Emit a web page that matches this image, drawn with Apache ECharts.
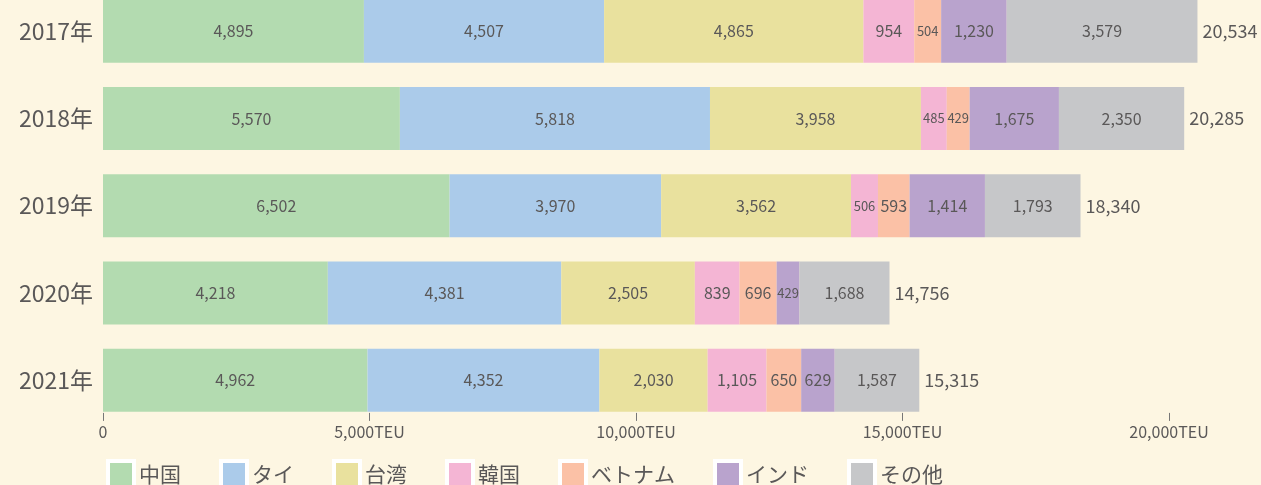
<!DOCTYPE html>
<html>
<head>
<meta charset="utf-8">
<script src="https://cdn.jsdelivr.net/npm/echarts@6/dist/echarts.min.js"></script>
<style>
html,body{margin:0;padding:0;background:#fdf6e2;}
#chart{width:1261px;height:485px;}
</style>
</head>
<body>
<div id="chart"></div>
<script>
const years = ['2017年', '2018年', '2019年', '2020年', '2021年'];
const seriesNames = ['中国', 'タイ', '台湾', '韓国', 'ベトナム', 'インド', 'その他'];
const china   = [4895, 5570, 6502, 4218, 4962];
const thai    = [4507, 5818, 3970, 4381, 4352];
const taiwan  = [4865, 3958, 3562, 2505, 2030];
const korea   = [954, 485, 506, 839, 1105];
const vietnam = [504, 429, 593, 696, 650];
const india   = [1230, 1675, 1414, 429, 629];
const others  = [3579, 2350, 1793, 1688, 1587];
const totals  = [20534, 20285, 18340, 14756, 15315];
const xTicks  = [0, 5000, 10000, 15000, 20000];

const colors = ['#b3dbb0', '#abcbea', '#e9e19e', '#f4b5d4', '#fbc1a6', '#b9a3cd', '#c6c7c9'];
const values = [china, thai, taiwan, korea, vietnam, india, others];
const textColor = '#5a5858';
const font = '"Noto Sans CJK JP", "Noto Sans", sans-serif';

const fmt = v => v.toLocaleString('en-US');

const series = seriesNames.map((name, i) => ({
  name: name,
  type: 'bar',
  stack: 'total',
  barWidth: 63,
  itemStyle: { color: colors[i] },
  emphasis: { disabled: true },
  data: values[i].map(v => ({
    value: v,
    label: { fontSize: v < 550 ? 13 : 16 }
  })),
  label: {
    show: true,
    position: 'inside',
    color: textColor,
    fontFamily: font,
    formatter: p => fmt(p.value)
  }
}));

series.push({
  name: '合計',
  type: 'bar',
  stack: 'total',
  barWidth: 63,
  itemStyle: { color: 'transparent' },
  emphasis: { disabled: true },
  data: totals.map(() => 0),
  label: {
    show: true,
    position: 'right',
    distance: 5,
    color: textColor,
    fontFamily: font,
    fontSize: 18,
    formatter: p => fmt(totals[p.dataIndex])
  }
});

const chart = echarts.init(document.getElementById('chart'));
chart.setOption({
  backgroundColor: '#fdf6e2',
  animation: false,
  textStyle: { fontFamily: font },
  grid: {
    left: 103,
    right: 38.7,
    top: -12.4,
    bottom: 61.1,
    containLabel: false,
    outerBoundsMode: 'none'
  },
  legend: {
    data: seriesNames,
    left: 106,
    top: 459,
    padding: 0,
    itemWidth: 26,
    itemHeight: 26,
    itemGap: 38,
    icon: 'rect',
    itemStyle: { borderColor: '#ffffff', borderWidth: 4 },
    textStyle: { color: textColor, fontSize: 21, fontFamily: font }
  },
  xAxis: {
    type: 'value',
    min: 0,
    max: 21000,
    interval: 5000,
    offset: -11,
    axisLine: { show: false },
    splitLine: { show: false },
    axisTick: {
      show: true,
      length: 8,
      customValues: xTicks,
      lineStyle: { color: '#777777', width: 1 }
    },
    axisLabel: {
      customValues: xTicks,
      margin: 11,
      color: textColor,
      fontSize: 16,
      fontFamily: font,
      formatter: v => v === 0 ? '0' : fmt(v) + 'TEU'
    }
  },
  yAxis: {
    type: 'category',
    data: years,
    inverse: true,
    axisLine: { show: false },
    axisTick: { show: false },
    axisLabel: {
      margin: 10,
      color: textColor,
      fontSize: 23,
      fontFamily: font
    }
  },
  series: series
});
</script>
</body>
</html>
